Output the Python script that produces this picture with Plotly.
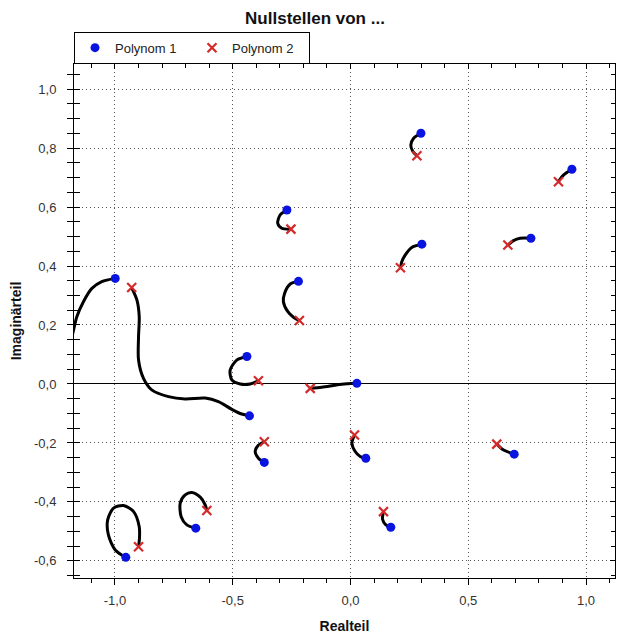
import plotly.graph_objects as go

# ---- roots (Nullstellen) ----
p1_re = [-0.999, -0.429, -0.440, -0.954, -0.657, -0.366, 0.027, 0.065, 0.695, 0.171, 0.299, 0.940, -0.270, 0.303, 0.766, -0.221]
p1_im = [0.358, -0.108, 0.093, -0.588, -0.489, -0.266, 0.002, -0.252, -0.238, -0.486, 0.850, 0.728, 0.590, 0.474, 0.494, 0.348]
p2_re = [-0.929, -0.391, -0.900, -0.610, -0.366, -0.171, 0.017, 0.621, 0.140, 0.282, 0.883, -0.253, 0.212, 0.668, -0.217]
p2_im = [0.327, 0.011, -0.552, -0.429, -0.196, -0.015, -0.173, -0.204, -0.433, 0.774, 0.686, 0.525, 0.394, 0.471, 0.215]

# ---- root paths (re, im) ----
path_01 = [(-0.999, 0.358), (-1.056, 0.347), (-1.098, 0.324), (-1.134, 0.279), (-1.162, 0.228), (-1.179, 0.172), (-1.186, 0.150)]
path_02 = [(-0.929, 0.326), (-0.907, 0.285), (-0.897, 0.228), (-0.900, 0.160), (-0.900, 0.081), (-0.879, 0.019),
           (-0.844, -0.020), (-0.773, -0.043), (-0.702, -0.051), (-0.617, -0.048), (-0.561, -0.060),
           (-0.504, -0.086), (-0.462, -0.102), (-0.429, -0.108)]
path_03 = [(-0.440, 0.093), (-0.483, 0.081), (-0.511, 0.047), (-0.504, 0.014), (-0.468, 0.000), (-0.426, 0.000), (-0.391, 0.011)]
path_04 = [(-0.954, -0.588), (-0.999, -0.563), (-1.028, -0.512), (-1.031, -0.461), (-1.006, -0.421), (-0.964, -0.412),
           (-0.921, -0.433), (-0.897, -0.484), (-0.896, -0.523), (-0.900, -0.552)]
path_05 = [(-0.657, -0.489), (-0.695, -0.478), (-0.719, -0.450), (-0.723, -0.404), (-0.702, -0.376), (-0.674, -0.368),
           (-0.638, -0.384), (-0.617, -0.410), (-0.610, -0.429)]
path_06 = [(-0.366, -0.266), (-0.391, -0.252), (-0.405, -0.229), (-0.394, -0.210), (-0.366, -0.196)]
path_07 = [(-0.171, -0.015), (-0.122, -0.011), (-0.079, -0.006), (-0.037, -0.001), (0.027, 0.002)]
path_08 = [(0.017, -0.173), (0.006, -0.201), (0.020, -0.229), (0.041, -0.246), (0.065, -0.252)]
path_09 = [(0.621, -0.204), (0.650, -0.224), (0.695, -0.238)]
path_10 = [(0.140, -0.433), (0.136, -0.459), (0.150, -0.478), (0.171, -0.486)]
path_11 = [(0.299, 0.850), (0.268, 0.833), (0.256, 0.810), (0.265, 0.788), (0.282, 0.774)]
path_12 = [(0.940, 0.728), (0.904, 0.708), (0.883, 0.686)]
path_13 = [(-0.270, 0.590), (-0.299, 0.573), (-0.309, 0.545), (-0.292, 0.528), (-0.253, 0.525)]
path_14 = [(0.303, 0.474), (0.260, 0.463), (0.232, 0.437), (0.218, 0.415), (0.212, 0.394)]
path_15 = [(0.766, 0.494), (0.720, 0.494), (0.692, 0.486), (0.668, 0.471)]
path_16 = [(-0.221, 0.348), (-0.256, 0.339), (-0.280, 0.307), (-0.285, 0.279), (-0.266, 0.245), (-0.242, 0.226), (-0.217, 0.215)]

paths = [path_01, path_02, path_03, path_04, path_05, path_06, path_07, path_08,
         path_09, path_10, path_11, path_12, path_13, path_14, path_15, path_16]

# ---- tick labels ----
x_tickvals = [-1.0, -0.5, 0.0, 0.5, 1.0]
x_ticktext = ["-1,0", "-0,5", "0,0", "0,5", "1,0"]
y_tickvals = [-0.6, -0.4, -0.2, 0.0, 0.2, 0.4, 0.6, 0.8, 1.0]
y_ticktext = ["-0,6", "-0,4", "-0,2", "0,0", "0,2", "0,4", "0,6", "0,8", "1,0"]

XR = [-1.174, 1.123]
YR = [-0.658, 1.085]
FONT = "Liberation Sans, Arial, sans-serif"

# page body has an 8px default margin; figure size compensates
W, H = 622, 633

fig = go.Figure()

for p in paths:
    fig.add_trace(go.Scatter(
        x=[q[0] for q in p], y=[q[1] for q in p], mode="lines",
        line=dict(color="black", width=3, shape="spline", smoothing=0.8),
        showlegend=False, hoverinfo="skip"))

fig.add_trace(go.Scatter(
    x=p1_re, y=p1_im, mode="markers", name="Polynom 1",
    marker=dict(symbol="circle", size=9, color="#0a14e0")))
fig.add_trace(go.Scatter(
    x=p2_re, y=p2_im, mode="markers", name="Polynom 2",
    marker=dict(symbol="x-thin", size=9, color="#d42a2a",
                line=dict(color="#d42a2a", width=2.2))))

# invisible helper traces for mirrored-tick axes
fig.add_trace(go.Scatter(x=[XR[0]], y=[YR[0]], xaxis="x2", yaxis="y2", mode="markers",
                         marker=dict(opacity=0), showlegend=False, hoverinfo="skip"))
fig.add_trace(go.Scatter(x=[XR[0]], y=[YR[0]], xaxis="x", yaxis="y3", mode="markers",
                         marker=dict(opacity=0), showlegend=False, hoverinfo="skip"))

tickfont = dict(family=FONT, size=13, color="#333333")

fig.update_layout(
    width=W, height=H,
    margin=dict(l=66, r=15, t=56, b=63, autoexpand=False),
    paper_bgcolor="white", plot_bgcolor="white",
    separators=",.",
    font=dict(family=FONT, color="black"),
    title=dict(text="<b>Nullstellen von ...</b>", x=307 / W, xref="container", xanchor="center",
               y=1 - 10 / H, yref="container", yanchor="middle",
               font=dict(family=FONT, size=17, color="#111111")),
    legend=dict(orientation="h", x=0, xanchor="left", y=1.0005, yanchor="bottom",
                bordercolor="black", borderwidth=1, bgcolor="white",
                font=dict(family=FONT, size=13, color="#222222"),
                entrywidth=72, entrywidthmode="pixels", itemwidth=30,
                tracegroupgap=0),
    xaxis=dict(range=XR, tickmode="array", tickvals=x_tickvals, ticktext=x_ticktext,
               tickfont=tickfont, ticks="outside", ticklen=6, tickcolor="black", tickwidth=1,
               ticklabelstandoff=4, automargin=False,
               minor=dict(tickmode="linear", tick0=0, dtick=0.1, ticks="outside", ticklen=4,
                          tickcolor="black", showgrid=False),
               showgrid=True, gridcolor="#555555", gridwidth=1, griddash="1px,3px",
               zeroline=False, showline=True, linecolor="black", linewidth=1, mirror=True,
               title=dict(text="<b>Realteil</b>", font=dict(family=FONT, size=14, color="#111111"),
                          standoff=14)),
    xaxis2=dict(range=XR, overlaying="x", side="top", matches="x", anchor="y",
                showticklabels=False, ticks="inside", ticklen=5, tickcolor="black",
                tickmode="array", tickvals=x_tickvals, automargin=False,
                minor=dict(tickmode="linear", tick0=0, dtick=0.1, ticks="inside", ticklen=4,
                           tickcolor="black", showgrid=False),
                showgrid=False, zeroline=False, showline=False),
    yaxis=dict(range=YR, tickmode="array", tickvals=y_tickvals, ticktext=y_ticktext,
               tickfont=tickfont, ticks="outside", ticklen=6, tickcolor="black", tickwidth=1,
               ticklabelstandoff=8, automargin=False,
               minor=dict(tickmode="linear", tick0=0, dtick=0.05, ticks="outside", ticklen=6,
                          tickcolor="black", showgrid=False),
               showgrid=True, gridcolor="#555555", gridwidth=1, griddash="1px,3px",
               zeroline=True, zerolinecolor="black", zerolinewidth=1,
               showline=True, linecolor="black", linewidth=1, mirror=True,
               title=dict(text="<b>Imaginärteil</b>", font=dict(family=FONT, size=14, color="#111111"),
                          standoff=10)),
    yaxis2=dict(range=YR, overlaying="y", side="right", matches="y", anchor="x2",
                showticklabels=False, ticks="inside", ticklen=5, tickcolor="black",
                tickmode="array", tickvals=y_tickvals, automargin=False,
                minor=dict(tickmode="linear", tick0=0, dtick=0.05, ticks="inside", ticklen=4,
                           tickcolor="black", showgrid=False),
                showgrid=False, zeroline=False, showline=False),
    yaxis3=dict(range=YR, overlaying="y", side="left", matches="y", anchor="x",
                showticklabels=False, ticks="inside", ticklen=6, tickcolor="black",
                tickmode="array", tickvals=y_tickvals, automargin=False,
                minor=dict(tickmode="linear", tick0=0, dtick=0.05, ticks="inside", ticklen=6,
                           tickcolor="black", showgrid=False),
                showgrid=False, zeroline=False, showline=False),
)

fig.write_html("out.html")
